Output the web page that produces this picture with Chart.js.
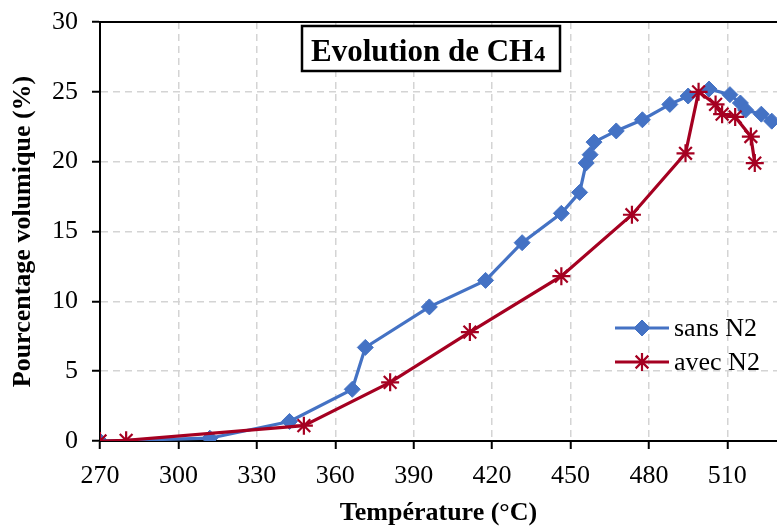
<!DOCTYPE html>
<html lang="fr">
<head>
<meta charset="UTF-8">
<title>Evolution de CH4</title>
<script src="https://cdn.jsdelivr.net/npm/chart.js@4.4.0/dist/chart.umd.min.js"></script>
<style>
    html, body { margin: 0; padding: 0; background: #fff; }
    #wrap { width: 777px; height: 530px; }
</style>
</head>
<body>
<div id="wrap"><canvas id="ch4Chart"></canvas></div>

<script>
// Data
const sansX = [270, 312, 342.5, 366.5, 371.5, 396, 417.5, 431.5, 446.5, 453.5, 456, 457.5, 459, 467.5, 477.5, 488, 495, 503, 511, 515, 517, 523, 527];
const sansY = [0, 0.2, 1.4, 3.7, 6.7, 9.6, 11.5, 14.2, 16.3, 17.8, 19.9, 20.5, 21.4, 22.2, 23.0, 24.1, 24.7, 25.2, 24.8, 24.2, 23.7, 23.4, 22.9];
const avecX = [270, 280, 348, 381, 411.5, 446.5, 473.5, 494, 499, 505.5, 508, 513, 519, 520.5];
const avecY = [0, 0.05, 1.1, 4.2, 7.8, 11.8, 16.2, 20.6, 25.0, 24.1, 23.4, 23.2, 21.8, 19.9];
const xTicks = [270, 300, 330, 360, 390, 420, 450, 480, 510];
const yTicks = [0, 5, 10, 15, 20, 25, 30];
const seriesNames = ['sans N2', 'avec N2'];

const BLUE = '#4472C4';
const RED = '#A50021';
const SERIF = '"Liberation Serif", "Times New Roman", serif';

const toPoints = (xs, ys) => xs.map((x, i) => ({ x: x, y: ys[i] }));

// title box, legend and top border drawn on top of the chart
const overlay = {
    id: 'overlay',
    afterDraw(chart) {
        const { ctx, chartArea: a } = chart;
        ctx.save();
        ctx.strokeStyle = '#000';
        ctx.lineWidth = 2;
        ctx.beginPath();
        ctx.moveTo(a.left, a.top);
        ctx.lineTo(a.right, a.top);
        ctx.stroke();

        // title box
        ctx.fillStyle = '#fff';
        ctx.fillRect(302, 26, 258, 45);
        ctx.lineWidth = 2.5;
        ctx.strokeRect(302, 26, 258, 45);
        ctx.fillStyle = '#000';
        ctx.textBaseline = 'alphabetic';
        ctx.textAlign = 'left';
        ctx.font = 'bold 31px ' + SERIF;
        const main = 'Evolution de CH';
        ctx.fillText(main, 311, 61);
        const w = ctx.measureText(main).width;
        ctx.font = 'bold 22px ' + SERIF;
        ctx.fillText('4', 311 + w + 1, 61);

        // legend
        const rows = [{ y: 328, ds: 0 }, { y: 362, ds: 1 }];
        ctx.font = '26px ' + SERIF;
        rows.forEach(r => {
            const d = chart.data.datasets[r.ds];
            ctx.strokeStyle = d.borderColor;
            ctx.lineWidth = 3;
            ctx.beginPath();
            ctx.moveTo(615, r.y);
            ctx.lineTo(669, r.y);
            ctx.stroke();
            ctx.lineWidth = d.pointBorderWidth;
            ctx.fillStyle = d.pointBackgroundColor;
            Chart.helpers.drawPoint(ctx, {
                pointStyle: d.pointStyle,
                radius: d.pointRadius,
                borderWidth: d.pointBorderWidth,
                rotation: 0
            }, 642, r.y);
            ctx.fillStyle = '#000';
            ctx.textBaseline = 'middle';
            ctx.fillText(d.label, 674, r.y + 1);
        });
        ctx.restore();
    }
};

new Chart(document.getElementById('ch4Chart').getContext('2d'), {
    type: 'line',
    data: {
        datasets: [{
            label: seriesNames[0],
            data: toPoints(sansX, sansY),
            borderColor: BLUE,
            backgroundColor: BLUE,
            pointBackgroundColor: BLUE,
            pointBorderColor: BLUE,
            pointStyle: 'rectRot',
            pointRadius: 8,
            pointBorderWidth: 1,
            borderWidth: 3.2,
            tension: 0,
            order: 1
        }, {
            label: seriesNames[1],
            data: toPoints(avecX, avecY),
            borderColor: RED,
            backgroundColor: RED,
            pointBackgroundColor: RED,
            pointBorderColor: RED,
            pointStyle: 'star',
            pointRadius: 9,
            pointBorderWidth: 2.2,
            borderWidth: 3.2,
            tension: 0,
            order: 0
        }]
    },
    options: {
        responsive: true,
        maintainAspectRatio: false,
        animation: false,
        layout: { autoPadding: false, padding: { top: 22, right: 0, left: 0, bottom: 0 } },
        plugins: {
            legend: { display: false },
            tooltip: { enabled: false }
        },
        scales: {
            x: {
                type: 'linear',
                min: 270,
                max: 529,
                afterBuildTicks: s => { s.ticks = xTicks.map(v => ({ value: v })); },
                afterFit: s => { s.height = 89; s.paddingLeft = 0; s.paddingRight = 0; },
                ticks: {
                    color: '#000',
                    font: { family: SERIF, size: 26 },
                    padding: 12,
                    maxRotation: 0,
                    callback: v => String(v)
                },
                grid: {
                    color: c => (c.tick && c.tick.value === 270) ? 'rgba(0,0,0,0)' : '#d4d4d4',
                    lineWidth: 1.5,
                    tickColor: '#000',
                    tickLength: 8,
                    tickWidth: 2
                },
                border: { color: '#000', width: 2, dash: [7, 5] },
                title: {
                    display: true,
                    text: 'Température (°C)',
                    color: '#000',
                    font: { family: SERIF, size: 26, weight: 'bold' },
                    padding: { top: 0, bottom: 1 }
                }
            },
            y: {
                min: 0,
                max: 30,
                afterBuildTicks: s => { s.ticks = yTicks.map(v => ({ value: v })); },
                afterFit: s => { s.width = 100; s.paddingTop = 0; s.paddingBottom = 0; },
                ticks: {
                    color: '#000',
                    font: { family: SERIF, size: 26 },
                    padding: 14
                },
                grid: {
                    color: c => (c.tick && (c.tick.value === 0 || c.tick.value === 30)) ? 'rgba(0,0,0,0)' : '#d4d4d4',
                    lineWidth: 1.5,
                    tickColor: '#000',
                    tickLength: 8,
                    tickWidth: 2
                },
                border: { color: '#000', width: 2, dash: [7, 5] },
                title: {
                    display: true,
                    text: 'Pourcentage volumique (%)',
                    color: '#000',
                    font: { family: SERIF, size: 26, weight: 'bold' },
                    padding: { top: 8, bottom: 0 }
                }
            }
        }
    },
    plugins: [overlay]
});
</script>
</body>
</html>
